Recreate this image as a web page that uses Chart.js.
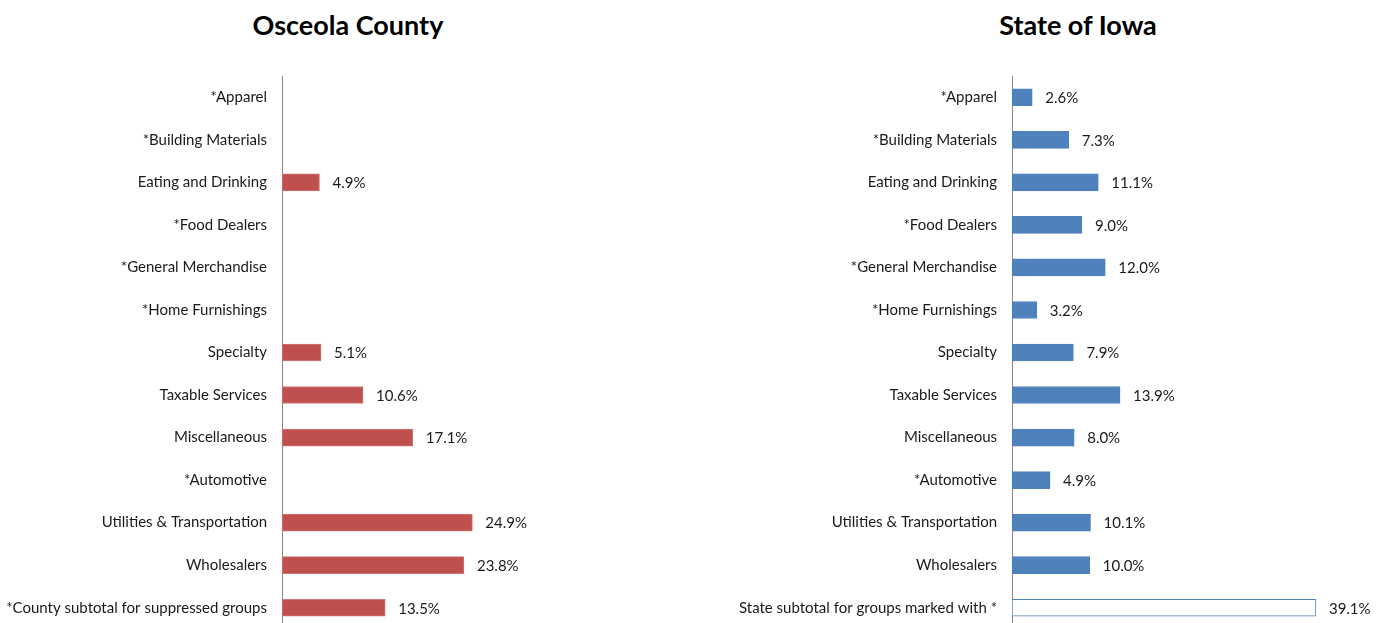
<!DOCTYPE html>
<html>
<head>
<meta charset="utf-8">
<script src="https://cdn.jsdelivr.net/npm/chart.js@4.4.1/dist/chart.umd.min.js"></script>
<style>
  html, body { margin: 0; padding: 0; background: #fff; overflow: hidden; }
  #wrap { position: relative; width: 1382px; height: 653px; }
  .panel { position: absolute; top: 0; width: 691px; height: 653px; }
  .panel canvas { display: block; }
  .title { position: absolute; top: 8px; font: bold 27px Lato, sans-serif; color: #000; white-space: nowrap; transform: translateX(-50%); }
</style>
</head>
<body>
<div id="wrap">
  <div class="title" style="left:348px">Osceola County</div>
  <div class="title" style="left:1078px">State of Iowa</div>
  <div class="panel" style="left:0"><canvas id="countyChart" width="691" height="653"></canvas></div>
  <div class="panel" style="left:691px"><canvas id="stateChart" width="691" height="653"></canvas></div>
</div>
<script>
// categories (shared except for the last row)
const groups = ['*Apparel', '*Building Materials', 'Eating and Drinking', '*Food Dealers',
  '*General Merchandise', '*Home Furnishings', 'Specialty', 'Taxable Services',
  'Miscellaneous', '*Automotive', 'Utilities & Transportation', 'Wholesalers'];
const countyLabels = [...groups, '*County subtotal for suppressed groups'];
const stateLabels = [...groups, 'State subtotal for groups marked with *'];

// percent of sales, suppressed county groups left empty
const countyValues = [null, null, 4.9, null, null, null, 5.1, 10.6, 17.1, null, 24.9, 23.8, 13.5];
const stateValues = [2.6, 7.3, 11.1, 9.0, 12.0, 3.2, 7.9, 13.9, 8.0, 4.9, 10.1, 10.0, 39.1];

const FONT = 'Lato, sans-serif';

// draws "x.x%" right of each bar
const valueLabels = {
  id: 'valueLabels',
  afterDatasetsDraw(chart) {
    const ctx = chart.ctx;
    const meta = chart.getDatasetMeta(0);
    const data = chart.data.datasets[0].data;
    ctx.save();
    ctx.font = '15px ' + FONT;
    ctx.fillStyle = '#1a1a1a';
    ctx.textBaseline = 'middle';
    meta.data.forEach((bar, i) => {
      if (data[i] == null) return;
      ctx.fillText(data[i].toFixed(1) + '%', bar.x + 13, bar.y + 1);
    });
    ctx.restore();
  }
};

function makeChart(id, labels, values, colors, borders, axisWidth, xMax) {
  const canvas = document.getElementById(id);
  return new Chart(canvas, {
    type: 'bar',
    data: {
      labels: labels,
      datasets: [{
        data: values,
        backgroundColor: colors,
        borderColor: borders,
        borderWidth: 1,
        borderSkipped: false,
        barThickness: 17
      }]
    },
    options: {
      indexAxis: 'y',
      responsive: false,
      maintainAspectRatio: false,
      animation: false,
      layout: { padding: { top: 76, right: 0, bottom: 0, left: 0 } },
      scales: {
        x: { display: false, min: 0, max: xMax },
        y: {
          grid: { display: false, drawTicks: false },
          border: { display: true, color: '#868686', width: 1 },
          ticks: { color: '#1a1a1a', font: { family: FONT, size: 15 }, padding: 15 },
          afterFit(scale) { scale.width = axisWidth; }
        }
      },
      plugins: { legend: { display: false }, tooltip: { enabled: false } }
    },
    plugins: [valueLabels]
  });
}

const red = '#C0504D';
const blue = '#4F81BD';
makeChart('countyChart', countyLabels, countyValues,
  countyValues.map(() => red), countyValues.map(() => '#D07572'), 282, 53.5);
makeChart('stateChart', stateLabels, stateValues,
  stateValues.map((v, i) => i === stateValues.length - 1 ? '#ffffff' : blue),
  stateValues.map(() => blue), 321, 47.6);
</script>
</body>
</html>
